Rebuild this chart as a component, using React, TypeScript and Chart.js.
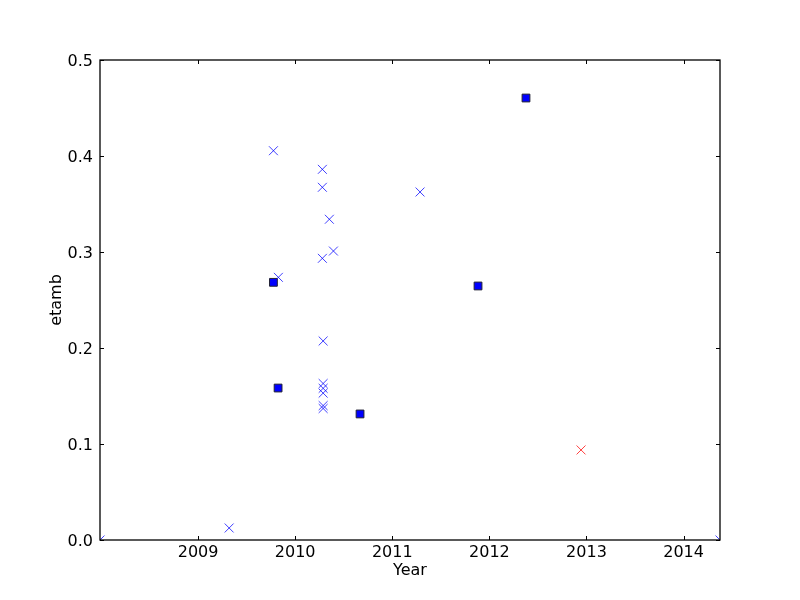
import React, { useEffect, useRef } from "react";
import { Chart, registerables } from "chart.js";

Chart.register(...registerables);

const X_MIN = 2007.99;
const X_MAX = 2014.375;
const xTicks = [2009, 2010, 2011, 2012, 2013, 2014];
const yTicks = [0, 0.1, 0.2, 0.3, 0.4, 0.5];

// blue squares
const squareX = [2012.377, 2009.776, 2009.824, 2010.668, 2011.883];
const squareY = [0.4604, 0.2684, 0.1583, 0.1313, 0.2646];

// blue crosses
const crossX = [
  2009.776, 2010.28, 2010.28, 2010.352, 2011.286, 2010.394, 2010.28, 2009.827,
  2010.288, 2010.288, 2010.288, 2010.288, 2010.288, 2010.288, 2009.32,
  2007.99, 2014.375,
];
const crossY = [
  0.4055, 0.3861, 0.3674, 0.3341, 0.3625, 0.301, 0.2934, 0.2736,
  0.2073, 0.163, 0.158, 0.153, 0.14, 0.137, 0.0125,
  0, 0,
];

// red cross
const redX = [2012.944];
const redY = [0.0938];

const toPoints = (xs: number[], ys: number[]) => xs.map((x, i) => ({ x, y: ys[i] }));

const framePlugin = {
  id: "frame",
  afterDatasetsDraw(chart: any) {
    const { ctx, chartArea, scales } = chart;
    const { left, right, top, bottom } = chartArea;
    ctx.save();
    ctx.strokeStyle = "#000";
    ctx.lineWidth = 1;
    ctx.beginPath();
    for (const v of xTicks) {
      const px = Math.round(scales.x.getPixelForValue(v)) + 0.5;
      ctx.moveTo(px, bottom);
      ctx.lineTo(px, bottom - 4);
      ctx.moveTo(px, top);
      ctx.lineTo(px, top + 4);
    }
    for (const v of yTicks) {
      const py = Math.round(scales.y.getPixelForValue(v)) + 0.5;
      ctx.moveTo(left, py);
      ctx.lineTo(left + 4, py);
      ctx.moveTo(right, py);
      ctx.lineTo(right - 4, py);
    }
    ctx.stroke();
    ctx.lineWidth = 1.3;
    ctx.strokeRect(left, top, right - left, bottom - top);
    ctx.restore();
  },
};

const bgPlugin = {
  id: "bg",
  beforeDraw(chart: any) {
    const { ctx, width, height } = chart;
    ctx.save();
    ctx.fillStyle = "#fff";
    ctx.fillRect(0, 0, width, height);
    ctx.restore();
  },
};

export default function App() {
  const ref = useRef<HTMLCanvasElement>(null);
  useEffect(() => {
    if (!ref.current) return;
    const font = { family: "DejaVu Sans", size: 16 };
    const chart = new Chart(ref.current, {
      type: "scatter",
      data: {
        datasets: [
          {
            data: toPoints(crossX, crossY),
            pointStyle: "crossRot",
            pointRadius: 6.3,
            pointHoverRadius: 6.3,
            borderColor: "rgba(0,0,255,0.75)",
            backgroundColor: "rgba(0,0,255,0.75)",
            pointBorderWidth: 1,
            clip: 0,
          } as any,
          {
            data: toPoints(redX, redY),
            pointStyle: "crossRot",
            pointRadius: 6.3,
            pointHoverRadius: 6.3,
            borderColor: "rgba(255,0,0,0.75)",
            backgroundColor: "rgba(255,0,0,0.75)",
            pointBorderWidth: 1,
            clip: 0,
          } as any,
          {
            data: toPoints(squareX, squareY),
            pointStyle: "rect",
            pointRadius: 5.5,
            pointHoverRadius: 5.5,
            borderColor: "#222233",
            backgroundColor: "#0000ff",
            pointBorderWidth: 1,
            clip: 0,
          } as any,
        ],
      },
      options: {
        animation: false,
        responsive: false,
        devicePixelRatio: 1,
        events: [],
        layout: { padding: { left: 0, top: 60, right: 80, bottom: 0 } },
        plugins: { legend: { display: false }, tooltip: { enabled: false } },
        scales: {
          x: {
            type: "linear",
            min: X_MIN,
            max: X_MAX,
            afterBuildTicks: (scale: any) => {
              scale.ticks = xTicks.map((v) => ({ value: v }));
            },
            afterFit: (scale: any) => {
              scale.height = 60;
            },
            grid: { display: false, drawTicks: false },
            border: { display: false },
            ticks: {
              color: "#000",
              font,
              padding: 3,
              maxRotation: 0,
              autoSkip: false,
              callback: (v: any) => String(v),
            },
            title: {
              display: true,
              text: "Year",
              color: "#000",
              font,
              padding: { top: 0, bottom: 20 },
            },
          },
          y: {
            type: "linear",
            min: 0,
            max: 0.5,
            afterBuildTicks: (scale: any) => {
              scale.ticks = yTicks.map((v) => ({ value: v }));
            },
            afterFit: (scale: any) => {
              scale.width = 100;
            },
            grid: { display: false, drawTicks: false },
            border: { display: false },
            ticks: {
              color: "#000",
              font,
              padding: 7,
              labelOffset: 1.5,
              autoSkip: false,
              callback: (v: any) => Number(v).toFixed(1),
            },
            title: {
              display: true,
              text: "etamb",
              color: "#000",
              font,
              padding: { top: 47, bottom: 0 },
            },
          },
        },
      },
      plugins: [bgPlugin, framePlugin],
    });
    return () => chart.destroy();
  }, []);
  return (
    <div style={{ position: "fixed", left: 0, top: 0, width: 800, height: 600, background: "#fff" }}>
      <canvas ref={ref} width={800} height={600} style={{ width: 800, height: 600, display: "block" }} />
    </div>
  );
}
